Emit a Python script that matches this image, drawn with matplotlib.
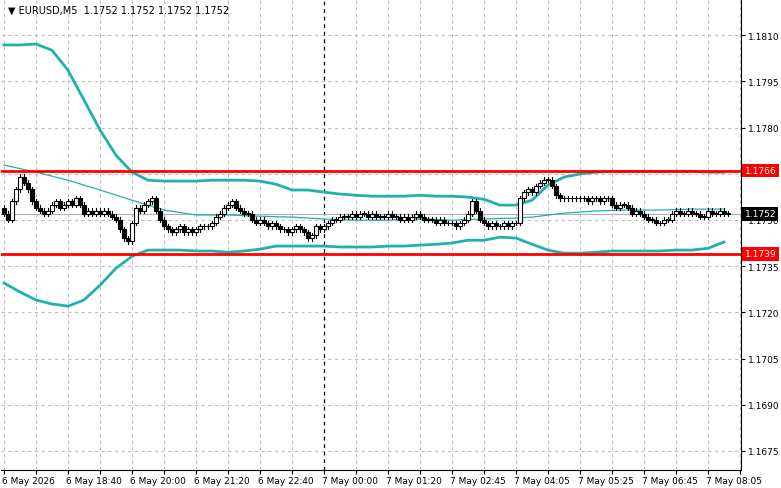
import matplotlib
matplotlib.use("Agg")
import matplotlib.pyplot as plt
from matplotlib.patches import Rectangle
import numpy as np

closes = [1.1752,1.1750,1.1756,1.1760,1.1764,1.1762,1.1760,1.1756,
1.1754,1.1753,1.1752,1.1753,1.1755,1.1756,1.1754,1.1755,
1.1756,1.1755,1.1757,1.1755,1.1752,1.1753,1.1752,1.1753,
1.1752,1.1753,1.1752,1.1751,1.1750,1.1747,1.1744,1.1743,
1.1749,1.1754,1.1753,1.1755,1.1756,1.1757,1.1753,1.1750,
1.1748,1.1747,1.1746,1.1747,1.1748,1.1746,1.1747,1.1746,
1.1747,1.1748,1.1748,1.1748,1.1749,1.1751,1.1752,1.1754,
1.1755,1.1756,1.1754,1.1753,1.1752,1.1752,1.1750,1.1749,
1.1750,1.1749,1.1748,1.1749,1.1748,1.1747,1.1747,1.1746,
1.1747,1.1748,1.1747,1.1746,1.1744,1.1745,1.1748,1.1747,
1.1748,1.1749,1.1750,1.1750,1.1751,1.1751,1.1751,1.1752,
1.1751,1.1752,1.1752,1.1751,1.1752,1.1751,1.1751,1.1751,
1.1752,1.1751,1.1751,1.1750,1.1751,1.1750,1.1751,1.1752,
1.1751,1.1750,1.1750,1.1750,1.1749,1.1750,1.1749,1.1749,
1.1749,1.1748,1.1749,1.1750,1.1752,1.1756,1.1753,1.1750,
1.1749,1.1748,1.1749,1.1748,1.1748,1.1749,1.1748,1.1749,
1.1749,1.1757,1.1759,1.1760,1.1759,1.1761,1.1762,1.1763,
1.1763,1.1761,1.1758,1.1757,1.1757,1.1757,1.1757,1.1757,
1.1757,1.1757,1.1756,1.1757,1.1757,1.1756,1.1757,1.1757,
1.1755,1.1754,1.1755,1.1755,1.1754,1.1752,1.1753,1.1752,
1.1751,1.1750,1.1750,1.1749,1.1749,1.1750,1.1750,1.1752,
1.1753,1.1752,1.1752,1.1753,1.1752,1.1752,1.1751,1.1751,
1.1753,1.1752,1.1752,1.1753,1.1752,1.1752]
first_open = 1.1754
wick = 0.00008

band_idx = [0,4,8,12,16,20,24,28,32,36,40,44,48,52,56,60,64,68,72,76,80,84,88,92,96,100,104,108,112,116,120,124,128,132,136,140,144,148,152,156,160,164,168,172,176,180]
upper = [1.18068,1.18068,1.18071,1.18051,1.17986,1.17889,1.17792,1.17710,1.17655,1.17629,1.17626,1.17626,1.17626,1.17629,1.17629,1.17629,1.17626,1.17616,1.17597,1.17597,1.17590,1.17584,1.17580,1.17577,1.17577,1.17577,1.17580,1.17577,1.17577,1.17574,1.17567,1.17548,1.17548,1.17564,1.17613,1.17639,1.17649,1.17655,1.17658,1.17658,1.17658,1.17658,1.17658,1.17658,1.17655,1.17655]
lower = [1.17295,1.17266,1.17240,1.17227,1.17220,1.17240,1.17288,1.17343,1.17382,1.17402,1.17402,1.17402,1.17399,1.17399,1.17395,1.17399,1.17405,1.17415,1.17415,1.17415,1.17415,1.17412,1.17412,1.17412,1.17415,1.17415,1.17418,1.17421,1.17425,1.17434,1.17434,1.17444,1.17441,1.17421,1.17402,1.17392,1.17392,1.17395,1.17399,1.17399,1.17399,1.17399,1.17402,1.17402,1.17408,1.17428]
mid_idx = [0,8,16,24,32,40,48,56,64,72,80,88,96,104,112,120,128,132,140,148,156,164,172,180]
middle = [1.17678,1.17655,1.17629,1.17597,1.17564,1.17532,1.17516,1.17516,1.17512,1.17509,1.17503,1.17499,1.17499,1.17503,1.17499,1.17503,1.17506,1.17509,1.17522,1.17529,1.17532,1.17532,1.17535,1.17535]

resist = 1.1766
support = 1.1739
last = 1.1752
yticks = [1.1810,1.1795,1.1780,1.1750,1.1735,1.1720,1.1705,1.1690,1.1675]
xtick_labels = ["6 May 2026","6 May 18:40","6 May 20:00","6 May 21:20","6 May 22:40","7 May 00:00",
                "7 May 01:20","7 May 02:45","7 May 04:05","7 May 05:25","7 May 06:45","7 May 08:05"]

W, H = 781, 489
fig = plt.figure(figsize=(W/100, H/100), dpi=100)
ax = fig.add_axes([1/W, 1-471/H, 740/W, 470/H])
ax.set_xlim(-0.75, 184.25)
ax.set_ylim(1.16688, 1.18214)

for i in range(0, 185, 8):
    if i != 80:
        ax.axvline(i, color='#c0c0c0', ls=(0, (3, 3)), lw=0.8, zorder=0)
for y in yticks + [1.1765]:
    ax.axhline(y, color='#c0c0c0', ls=(0, (3, 3)), lw=0.8, zorder=0)
ax.axvline(80, color='black', ls=(0, (3, 3)), lw=0.9, zorder=1)
ax.axhline(last, color='#b0b0b0', lw=0.8, zorder=1)

bc = '#20b2aa'
ax.plot(band_idx, upper, color=bc, lw=2, zorder=2)
ax.plot(band_idx, lower, color=bc, lw=2, zorder=2)
ax.plot(mid_idx, middle, color=bc, lw=0.9, zorder=2)

prev = first_open
for i, c in enumerate(closes):
    o = prev
    hi = max(o, c) + wick
    lo = min(o, c) - wick
    ax.plot([i, i], [lo, hi], color='black', lw=0.8, zorder=3)
    b = min(o, c); h = max(abs(c - o), 0.000015)
    ax.add_patch(Rectangle((i-0.4, b), 0.8, h, facecolor='white' if c >= o else 'black',
                           edgecolor='black', lw=0.8, zorder=4))
    prev = c

ax.axhline(resist, color='#ff0000', lw=2, zorder=5)
ax.axhline(support, color='#ff0000', lw=2, zorder=5)

ax.tick_params(axis='y', right=True, left=False, labelright=True, labelleft=False,
               labelsize=6.5, direction='out', length=3, pad=2)
ax.set_yticks(yticks)
ax.set_yticklabels([f"{v:.4f}" for v in yticks])
ax.set_xticks(range(0, 185, 8))
ax.set_xticklabels(["" for _ in range(0, 185, 8)])
ax.tick_params(axis='x', labelsize=7, length=3)
for k, lab in enumerate(xtick_labels):
    ax.text(16*k - 0.5, -0.012, lab, transform=ax.get_xaxis_transform(), fontsize=6.5,
            ha='left', va='top')
for s in ['top', 'left']:
    ax.spines[s].set_visible(False)

for y, fc in [(resist, '#ff0000'), (support, '#ff0000'), (last, 'black')]:
    ax.text(1.005, y, f"{y:.4f}", transform=ax.get_yaxis_transform(), color='white',
            fontsize=6.5, va='center', ha='left',
            bbox=dict(boxstyle='square,pad=0.25', fc=fc, ec='none'), zorder=10)

fig.text(8/W, 1-11/H, "▼ EURUSD,M5  1.1752 1.1752 1.1752 1.1752", fontsize=7, va='center')
fig.savefig("out.png", dpi=100)
